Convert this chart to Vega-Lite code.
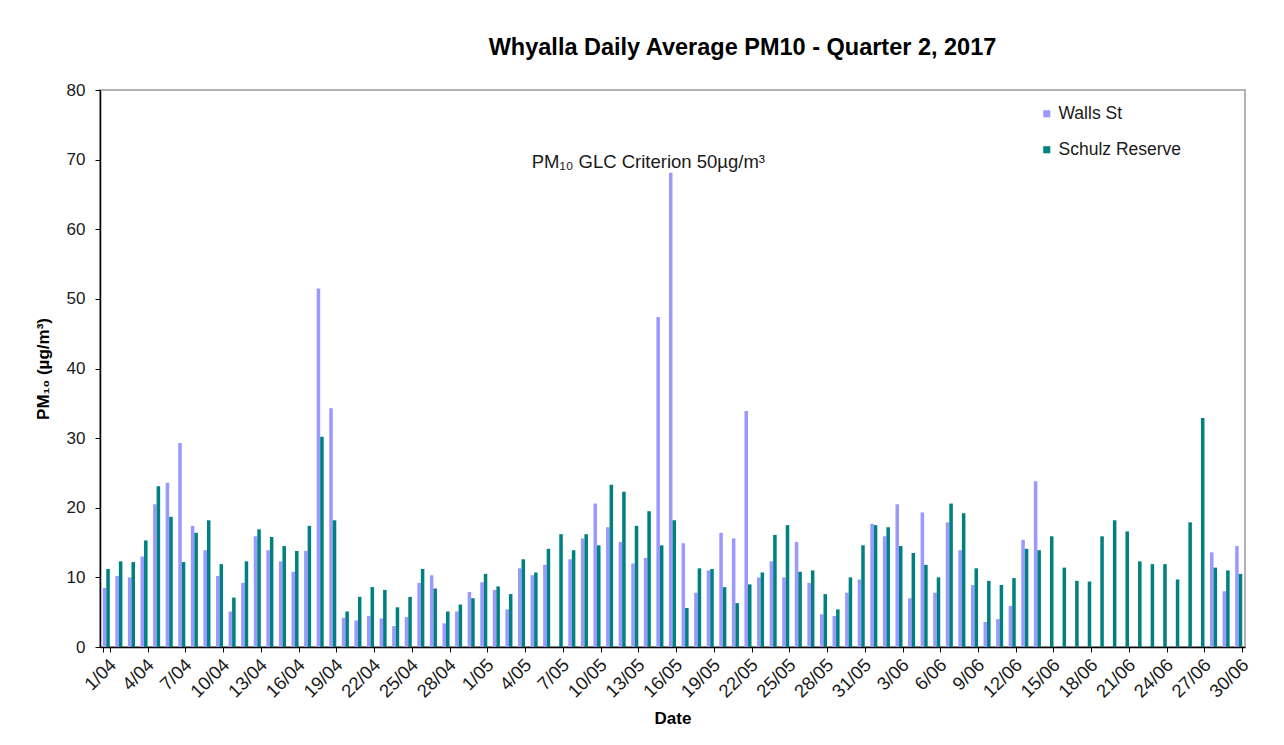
{
  "$schema": "https://vega.github.io/schema/vega-lite/v6.json",
  "autosize": {"type": "none"},
  "padding": {"left": 100, "top": 90, "right": 39, "bottom": 98},
  "width": 1145,
  "height": 557,
  "background": "white",
  "config": {
    "font": "Liberation Sans",
    "view": {"stroke": "#b3b3b3", "strokeWidth": 2},
    "axis": {"labelFont": "Liberation Sans", "titleFont": "Liberation Sans", "labelColor": "#1a1a1a", "titleColor": "#000000", "domainColor": "#000000", "tickColor": "#000000", "grid": false}
  },
  "title": {"text": "Whyalla Daily Average PM10 - Quarter 2, 2017", "fontSize": 23.5, "fontWeight": "bold", "font": "Liberation Sans", "color": "#000000", "anchor": "middle", "dx": 70, "offset": 22},
  "datasets": {
    "pm": [
      {"d":"1/04","s":"Walls St","v":8.5},{"d":"1/04","s":"Schulz Reserve","v":11.2},
      {"d":"2/04","s":"Walls St","v":10.2},{"d":"2/04","s":"Schulz Reserve","v":12.3},
      {"d":"3/04","s":"Walls St","v":10.0},{"d":"3/04","s":"Schulz Reserve","v":12.2},
      {"d":"4/04","s":"Walls St","v":13.0},{"d":"4/04","s":"Schulz Reserve","v":15.3},
      {"d":"5/04","s":"Walls St","v":20.5},{"d":"5/04","s":"Schulz Reserve","v":23.1},
      {"d":"6/04","s":"Walls St","v":23.6},{"d":"6/04","s":"Schulz Reserve","v":18.7},
      {"d":"7/04","s":"Walls St","v":29.3},{"d":"7/04","s":"Schulz Reserve","v":12.2},
      {"d":"8/04","s":"Walls St","v":17.4},{"d":"8/04","s":"Schulz Reserve","v":16.4},
      {"d":"9/04","s":"Walls St","v":13.9},{"d":"9/04","s":"Schulz Reserve","v":18.2},
      {"d":"10/04","s":"Walls St","v":10.2},{"d":"10/04","s":"Schulz Reserve","v":11.9},
      {"d":"11/04","s":"Walls St","v":5.1},{"d":"11/04","s":"Schulz Reserve","v":7.1},
      {"d":"12/04","s":"Walls St","v":9.2},{"d":"12/04","s":"Schulz Reserve","v":12.3},
      {"d":"13/04","s":"Walls St","v":15.9},{"d":"13/04","s":"Schulz Reserve","v":16.9},
      {"d":"14/04","s":"Walls St","v":13.9},{"d":"14/04","s":"Schulz Reserve","v":15.8},
      {"d":"15/04","s":"Walls St","v":12.3},{"d":"15/04","s":"Schulz Reserve","v":14.5},
      {"d":"16/04","s":"Walls St","v":10.8},{"d":"16/04","s":"Schulz Reserve","v":13.8},
      {"d":"17/04","s":"Walls St","v":13.8},{"d":"17/04","s":"Schulz Reserve","v":17.4},
      {"d":"18/04","s":"Walls St","v":51.5},{"d":"18/04","s":"Schulz Reserve","v":30.2},
      {"d":"19/04","s":"Walls St","v":34.3},{"d":"19/04","s":"Schulz Reserve","v":18.2},
      {"d":"20/04","s":"Walls St","v":4.2},{"d":"20/04","s":"Schulz Reserve","v":5.1},
      {"d":"21/04","s":"Walls St","v":3.8},{"d":"21/04","s":"Schulz Reserve","v":7.2},
      {"d":"22/04","s":"Walls St","v":4.45},{"d":"22/04","s":"Schulz Reserve","v":8.6},
      {"d":"23/04","s":"Walls St","v":4.1},{"d":"23/04","s":"Schulz Reserve","v":8.2},
      {"d":"24/04","s":"Walls St","v":3.0},{"d":"24/04","s":"Schulz Reserve","v":5.7},
      {"d":"25/04","s":"Walls St","v":4.3},{"d":"25/04","s":"Schulz Reserve","v":7.2},
      {"d":"26/04","s":"Walls St","v":9.2},{"d":"26/04","s":"Schulz Reserve","v":11.2},
      {"d":"27/04","s":"Walls St","v":10.3},{"d":"27/04","s":"Schulz Reserve","v":8.4},
      {"d":"28/04","s":"Walls St","v":3.4},{"d":"28/04","s":"Schulz Reserve","v":5.1},
      {"d":"29/04","s":"Walls St","v":5.1},{"d":"29/04","s":"Schulz Reserve","v":6.1},
      {"d":"30/04","s":"Walls St","v":7.9},{"d":"30/04","s":"Schulz Reserve","v":7.0},
      {"d":"1/05","s":"Walls St","v":9.3},{"d":"1/05","s":"Schulz Reserve","v":10.5},
      {"d":"2/05","s":"Walls St","v":8.2},{"d":"2/05","s":"Schulz Reserve","v":8.7},
      {"d":"3/05","s":"Walls St","v":5.4},{"d":"3/05","s":"Schulz Reserve","v":7.6},
      {"d":"4/05","s":"Walls St","v":11.3},{"d":"4/05","s":"Schulz Reserve","v":12.6},
      {"d":"5/05","s":"Walls St","v":10.3},{"d":"5/05","s":"Schulz Reserve","v":10.7},
      {"d":"6/05","s":"Walls St","v":11.8},{"d":"6/05","s":"Schulz Reserve","v":14.1},
      {"d":"7/05","s":"Schulz Reserve","v":16.2},
      {"d":"8/05","s":"Walls St","v":12.6},{"d":"8/05","s":"Schulz Reserve","v":13.9},
      {"d":"9/05","s":"Walls St","v":15.6},{"d":"9/05","s":"Schulz Reserve","v":16.2},
      {"d":"10/05","s":"Walls St","v":20.6},{"d":"10/05","s":"Schulz Reserve","v":14.6},
      {"d":"11/05","s":"Walls St","v":17.2},{"d":"11/05","s":"Schulz Reserve","v":23.3},
      {"d":"12/05","s":"Walls St","v":15.1},{"d":"12/05","s":"Schulz Reserve","v":22.3},
      {"d":"13/05","s":"Walls St","v":12.0},{"d":"13/05","s":"Schulz Reserve","v":17.4},
      {"d":"14/05","s":"Walls St","v":12.8},{"d":"14/05","s":"Schulz Reserve","v":19.5},
      {"d":"15/05","s":"Walls St","v":47.4},{"d":"15/05","s":"Schulz Reserve","v":14.6},
      {"d":"16/05","s":"Walls St","v":68.1},{"d":"16/05","s":"Schulz Reserve","v":18.2},
      {"d":"17/05","s":"Walls St","v":14.9},{"d":"17/05","s":"Schulz Reserve","v":5.6},
      {"d":"18/05","s":"Walls St","v":7.8},{"d":"18/05","s":"Schulz Reserve","v":11.3},
      {"d":"19/05","s":"Walls St","v":11.0},{"d":"19/05","s":"Schulz Reserve","v":11.2},
      {"d":"20/05","s":"Walls St","v":16.4},{"d":"20/05","s":"Schulz Reserve","v":8.6},
      {"d":"21/05","s":"Walls St","v":15.6},{"d":"21/05","s":"Schulz Reserve","v":6.3},
      {"d":"22/05","s":"Walls St","v":33.9},{"d":"22/05","s":"Schulz Reserve","v":9.0},
      {"d":"23/05","s":"Walls St","v":10.0},{"d":"23/05","s":"Schulz Reserve","v":10.7},
      {"d":"24/05","s":"Walls St","v":12.3},{"d":"24/05","s":"Schulz Reserve","v":16.1},
      {"d":"25/05","s":"Walls St","v":10.0},{"d":"25/05","s":"Schulz Reserve","v":17.5},
      {"d":"26/05","s":"Walls St","v":15.1},{"d":"26/05","s":"Schulz Reserve","v":10.8},
      {"d":"27/05","s":"Walls St","v":9.2},{"d":"27/05","s":"Schulz Reserve","v":11.0},
      {"d":"28/05","s":"Walls St","v":4.7},{"d":"28/05","s":"Schulz Reserve","v":7.6},
      {"d":"29/05","s":"Walls St","v":4.45},{"d":"29/05","s":"Schulz Reserve","v":5.4},
      {"d":"30/05","s":"Walls St","v":7.8},{"d":"30/05","s":"Schulz Reserve","v":10.0},
      {"d":"31/05","s":"Walls St","v":9.7},{"d":"31/05","s":"Schulz Reserve","v":14.6},
      {"d":"1/06","s":"Walls St","v":17.7},{"d":"1/06","s":"Schulz Reserve","v":17.5},
      {"d":"2/06","s":"Walls St","v":15.9},{"d":"2/06","s":"Schulz Reserve","v":17.2},
      {"d":"3/06","s":"Walls St","v":20.5},{"d":"3/06","s":"Schulz Reserve","v":14.5},
      {"d":"4/06","s":"Walls St","v":7.0},{"d":"4/06","s":"Schulz Reserve","v":13.5},
      {"d":"5/06","s":"Walls St","v":19.3},{"d":"5/06","s":"Schulz Reserve","v":11.8},
      {"d":"6/06","s":"Walls St","v":7.8},{"d":"6/06","s":"Schulz Reserve","v":10.0},
      {"d":"7/06","s":"Walls St","v":17.9},{"d":"7/06","s":"Schulz Reserve","v":20.6},
      {"d":"8/06","s":"Walls St","v":13.9},{"d":"8/06","s":"Schulz Reserve","v":19.2},
      {"d":"9/06","s":"Walls St","v":8.9},{"d":"9/06","s":"Schulz Reserve","v":11.3},
      {"d":"10/06","s":"Walls St","v":3.6},{"d":"10/06","s":"Schulz Reserve","v":9.5},
      {"d":"11/06","s":"Walls St","v":4.0},{"d":"11/06","s":"Schulz Reserve","v":8.9},
      {"d":"12/06","s":"Walls St","v":5.9},{"d":"12/06","s":"Schulz Reserve","v":9.9},
      {"d":"13/06","s":"Walls St","v":15.4},{"d":"13/06","s":"Schulz Reserve","v":14.1},
      {"d":"14/06","s":"Walls St","v":23.8},{"d":"14/06","s":"Schulz Reserve","v":13.9},
      {"d":"15/06","s":"Schulz Reserve","v":15.9},
      {"d":"16/06","s":"Schulz Reserve","v":11.4},
      {"d":"17/06","s":"Schulz Reserve","v":9.5},
      {"d":"18/06","s":"Schulz Reserve","v":9.4},
      {"d":"19/06","s":"Schulz Reserve","v":15.9},
      {"d":"20/06","s":"Schulz Reserve","v":18.2},
      {"d":"21/06","s":"Schulz Reserve","v":16.6},
      {"d":"22/06","s":"Schulz Reserve","v":12.3},
      {"d":"23/06","s":"Schulz Reserve","v":11.9},
      {"d":"24/06","s":"Schulz Reserve","v":11.9},
      {"d":"25/06","s":"Schulz Reserve","v":9.7},
      {"d":"26/06","s":"Schulz Reserve","v":17.9},
      {"d":"27/06","s":"Schulz Reserve","v":32.9},
      {"d":"28/06","s":"Walls St","v":13.6},{"d":"28/06","s":"Schulz Reserve","v":11.4},
      {"d":"29/06","s":"Walls St","v":8.0},{"d":"29/06","s":"Schulz Reserve","v":11.0},
      {"d":"30/06","s":"Walls St","v":14.5},{"d":"30/06","s":"Schulz Reserve","v":10.5}
    ],
    "note": [
      {"d": "14/05", "y": 70, "t": "PM₁₀ GLC Criterion 50µg/m³"}
    ]
  },
  "layer": [
    {
      "data": {"name": "pm"},
      "mark": {"type": "bar"},
      "encoding": {
        "x": {
          "field": "d", "type": "ordinal", "sort": null,
          "scale": {
            "domain": ["1/04","2/04","3/04","4/04","5/04","6/04","7/04","8/04","9/04","10/04","11/04","12/04","13/04","14/04","15/04","16/04","17/04","18/04","19/04","20/04","21/04","22/04","23/04","24/04","25/04","26/04","27/04","28/04","29/04","30/04",
                       "1/05","2/05","3/05","4/05","5/05","6/05","7/05","8/05","9/05","10/05","11/05","12/05","13/05","14/05","15/05","16/05","17/05","18/05","19/05","20/05","21/05","22/05","23/05","24/05","25/05","26/05","27/05","28/05","29/05","30/05","31/05",
                       "1/06","2/06","3/06","4/06","5/06","6/06","7/06","8/06","9/06","10/06","11/06","12/06","13/06","14/06","15/06","16/06","17/06","18/06","19/06","20/06","21/06","22/06","23/06","24/06","25/06","26/06","27/06","28/06","29/06","30/06"],
            "paddingInner": 0.44, "paddingOuter": 0.22
          },
          "axis": {
            "title": "Date", "titleFontSize": 17, "titleFontWeight": "bold", "titlePadding": 10,
            "values": ["1/04","4/04","7/04","10/04","13/04","16/04","19/04","22/04","25/04","28/04","1/05","4/05","7/05","10/05","13/05","16/05","19/05","22/05","25/05","28/05","31/05","3/06","6/06","9/06","12/06","15/06","18/06","21/06","24/06","27/06","30/06"],
            "tickBand": "extent", "tickSize": 5, "domainWidth": 1.5,
            "labelAngle": -45, "labelFontSize": 18.5, "labelPadding": 3
          }
        },
        "xOffset": {"field": "s", "type": "nominal", "scale": {"domain": ["Walls St", "Schulz Reserve"]}},
        "y": {
          "field": "v", "type": "quantitative",
          "scale": {"domain": [0, 80]},
          "axis": {
            "title": "PM₁₀ (µg/m³)", "titleFontSize": 17, "titleFontWeight": "bold", "titlePadding": 14,
            "values": [0,10,20,30,40,50,60,70,80], "tickSize": 5, "domainWidth": 1.5,
            "labelFontSize": 17, "labelPadding": 10
          }
        },
        "color": {
          "field": "s", "type": "nominal",
          "scale": {"domain": ["Walls St", "Schulz Reserve"], "range": ["#9999FF", "#008080"]},
          "legend": {
            "title": null, "orient": "none", "legendX": 938, "legendY": 15,
            "symbolType": "square", "symbolSize": 50, "symbolStrokeWidth": 0,
            "labelFontSize": 17.5, "labelFont": "Liberation Sans", "labelColor": "#1a1a1a",
            "rowPadding": 17, "labelOffset": 3
          }
        }
      }
    },
    {
      "mark": {"type": "rule", "color": "#000000", "strokeWidth": 2},
      "encoding": {"y": {"datum": 50}}
    },
    {
      "data": {"name": "note"},
      "mark": {"type": "text", "fontSize": 18.5, "font": "Liberation Sans", "color": "#1a1a1a", "baseline": "middle", "align": "center", "dx": 1, "dy": 2},
      "encoding": {
        "x": {"field": "d", "type": "ordinal", "sort": null},
        "y": {"field": "y", "type": "quantitative"},
        "text": {"field": "t", "type": "nominal"}
      }
    }
  ]
}
